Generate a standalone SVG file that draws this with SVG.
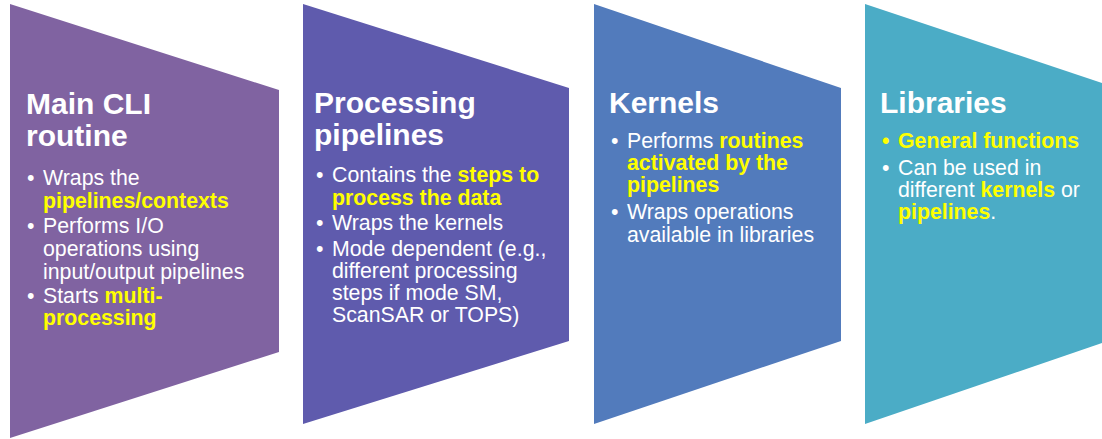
<svg xmlns="http://www.w3.org/2000/svg" width="1102" height="439" viewBox="0 0 1102 439">
  <style>
    text { font-family: "Liberation Sans", Arial, sans-serif; fill: #FFFFFF; }
    .title { font-size: 30px; font-weight: bold; }
    .body { font-size: 21.3px; }
    .hl { fill: #FFFF00; font-weight: bold; }
  </style>
  <rect width="1102" height="439" fill="#FFFFFF"/>

  <!-- Stage 1: main CLI routine -->
  <g id="main-cli">
    <polygon points="10,4 279,90 279,352 10,438" fill="#8063A1"/>
    <text class="title" x="26" y="114">Main CLI</text>
    <text class="title" x="26" y="146">routine</text>
    <text class="body" x="27" y="185">•</text>
    <text class="body" x="43" y="185">Wraps the</text>
    <text class="body" x="43" y="208"><tspan class="hl">pipelines/contexts</tspan></text>
    <text class="body" x="27" y="233">•</text>
    <text class="body" x="43" y="233">Performs I/O</text>
    <text class="body" x="43" y="256">operations using</text>
    <text class="body" x="43" y="279">input/output pipelines</text>
    <text class="body" x="27" y="303">•</text>
    <text class="body" x="43" y="303">Starts <tspan class="hl">multi-</tspan></text>
    <text class="body" x="43" y="325"><tspan class="hl">processing</tspan></text>
  </g>

  <!-- Stage 2: processing pipelines -->
  <g id="processing-pipelines">
    <polygon points="303,4 569,88 569,341 303,424" fill="#5F5BAD"/>
    <text class="title" x="314" y="113">Processing</text>
    <text class="title" x="314" y="145">pipelines</text>
    <text class="body" x="316" y="182">•</text>
    <text class="body" x="332" y="182">Contains the <tspan class="hl">steps to</tspan></text>
    <text class="body" x="332" y="205"><tspan class="hl">process the data</tspan></text>
    <text class="body" x="316" y="230">•</text>
    <text class="body" x="332" y="230">Wraps the kernels</text>
    <text class="body" x="316" y="256">•</text>
    <text class="body" x="332" y="256">Mode dependent (e.g.,</text>
    <text class="body" x="332" y="278">different processing</text>
    <text class="body" x="332" y="300">steps if mode SM,</text>
    <text class="body" x="332" y="322">ScanSAR or TOPS)</text>
  </g>

  <!-- Stage 3: kernels -->
  <g id="kernels">
    <polygon points="594,4 841,88 841,341 594,424" fill="#527BBC"/>
    <text class="title" x="609" y="113">Kernels</text>
    <text class="body" x="611" y="148">•</text>
    <text class="body" x="627" y="148">Performs <tspan class="hl">routines</tspan></text>
    <text class="body" x="627" y="170"><tspan class="hl">activated by the</tspan></text>
    <text class="body" x="627" y="192"><tspan class="hl">pipelines</tspan></text>
    <text class="body" x="611" y="219">•</text>
    <text class="body" x="627" y="219">Wraps operations</text>
    <text class="body" x="627" y="242">available in libraries</text>
  </g>

  <!-- Stage 4: libraries -->
  <g id="libraries">
    <polygon points="865,4 1102,83 1102,343 865,424" fill="#4BACC6"/>
    <text class="title" x="880" y="113">Libraries</text>
    <text class="body hl" x="882" y="148">•</text>
    <text class="body" x="898" y="148"><tspan class="hl">General functions</tspan></text>
    <text class="body" x="882" y="175">•</text>
    <text class="body" x="898" y="175">Can be used in</text>
    <text class="body" x="898" y="197">different <tspan class="hl">kernels</tspan> or</text>
    <text class="body" x="898" y="219"><tspan class="hl">pipelines</tspan>.</text>
  </g>

  <!-- the stages stand side by side with no connecting lines -->
  <g id="connectors"/>
</svg>
